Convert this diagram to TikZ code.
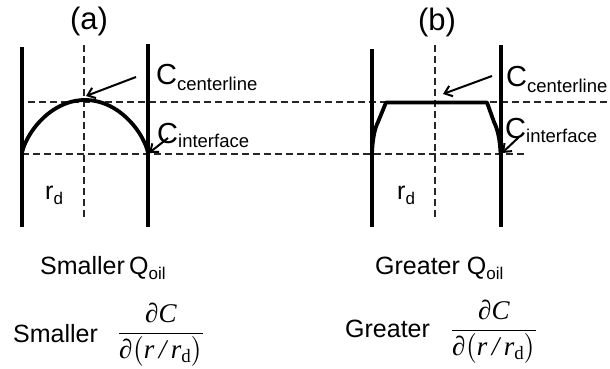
\documentclass[tikz,border=0pt]{standalone}
\usepackage{fontspec}
\usepackage{amsmath}
\setmainfont{Liberation Sans}
\newfontfamily\serif{Liberation Serif}
\usetikzlibrary{arrows.meta}
\newcommand{\subfnt}{\fontsize{18.5}{20}\selectfont}
\newcommand{\fracfrac}{$\dfrac{\text{\serif ∂\textit{C}}}{\text{\serif ∂}\bigl(\text{\serif\itshape r\,/\,r}_{\text{\serif d}}\bigr)}$}
\begin{document}
\begin{tikzpicture}[x=1pt,y=-1pt,
  wall/.style={line width=4pt},
  prof/.style={line width=3.8pt, line join=round},
  guide/.style={line width=1.2pt, dash pattern=on 7pt off 4pt, draw=black!85},
  pointer/.style={line width=2pt, -{Straight Barb[length=7pt,width=11pt,line width=2pt]}},
  lab/.style={font=\fontsize{29}{32}\selectfont, inner sep=0pt, anchor=base west},
  txt/.style={font=\fontsize{25}{28}\selectfont, inner sep=0pt, anchor=base west},
  frc/.style={font=\fontsize{27}{30}\selectfont, inner sep=0pt, anchor=center}
]
\useasboundingbox (0,0) rectangle (610,368);
% guides
\draw[guide] (28,102) -- (610,102);
\draw[guide] (22,154) -- (525,154);
\draw[guide] (84,45) -- (84,217);
\draw[guide] (435,45) -- (435,217);
% walls
\draw[wall] (21.5,47) -- (21.5,227);
\draw[wall] (148,44) -- (148,227);
\draw[wall] (372,49) -- (372,227);
\draw[wall] (501,45) -- (501,227);
% profiles
\draw[prof] (22,154) -- plot[domain=0.5:179.5, samples=120, smooth] ({85-63*cos(\x)},{154-54*sin(\x)^1.4}) -- (148,154);
\draw[prof] (372,154) .. controls (372.5,138) and (375,128) .. (378,122) -- (386,102.5) -- (487,102.5) -- (494,122) .. controls (497,128) and (500,138) .. (500.5,154);
% titles
\node[font=\fontsize{31}{34}\selectfont, inner sep=0pt] (ta) at (89,21.5) {(a)};
\node[font=\fontsize{31}{34}\selectfont, inner sep=0pt] (tb) at (437,22.5) {(b)};
% labels
\node[lab] (cla) at (156,84) {C\raisebox{-6pt}{\subfnt centerline}};
\node[lab] (cia) at (157,143) {C\raisebox{-4pt}{\subfnt interface}};
\node[lab] (clb) at (506,86) {C\raisebox{-6pt}{\subfnt centerline}};
\node[lab] (cib) at (505,138) {C\raisebox{-4pt}{\subfnt interface}};
\node[txt] (rda) at (45,199) {r\raisebox{-5pt}{\fontsize{17}{18}\selectfont d}};
\node[txt] (rdb) at (397,199) {r\raisebox{-5pt}{\fontsize{17}{18}\selectfont d}};
% arrows
\coordinate (la0) at (136,77);  \coordinate (la1) at (86,96);
\coordinate (ia0) at (168,138); \coordinate (ia1) at (149,153);
\coordinate (lb0) at (492,76);  \coordinate (lb1) at (443,94);
\coordinate (ib0) at (519,137); \coordinate (ib1) at (502,153);
\draw[pointer] (la0) -- (la1);
\draw[pointer] (ia0) -- (ia1);
\draw[pointer] (lb0) -- (lb1);
\draw[pointer] (ib0) -- (ib1);
% bottom texts
\node[txt] (qa) at (40,274) {Smaller\,Q\raisebox{-5pt}{\fontsize{17}{18}\selectfont oil}};
\node[txt] (qb) at (375,274) {Greater Q\raisebox{-5pt}{\fontsize{17}{18}\selectfont oil}};
\node[txt] (sa) at (13,342) {Smaller};
\node[txt] (sb) at (345,337) {Greater};
\node[frc] (fa) at (161,335) {\fracfrac};
\node[frc] (fb) at (494,332) {\fracfrac};
\end{tikzpicture}
\end{document}
